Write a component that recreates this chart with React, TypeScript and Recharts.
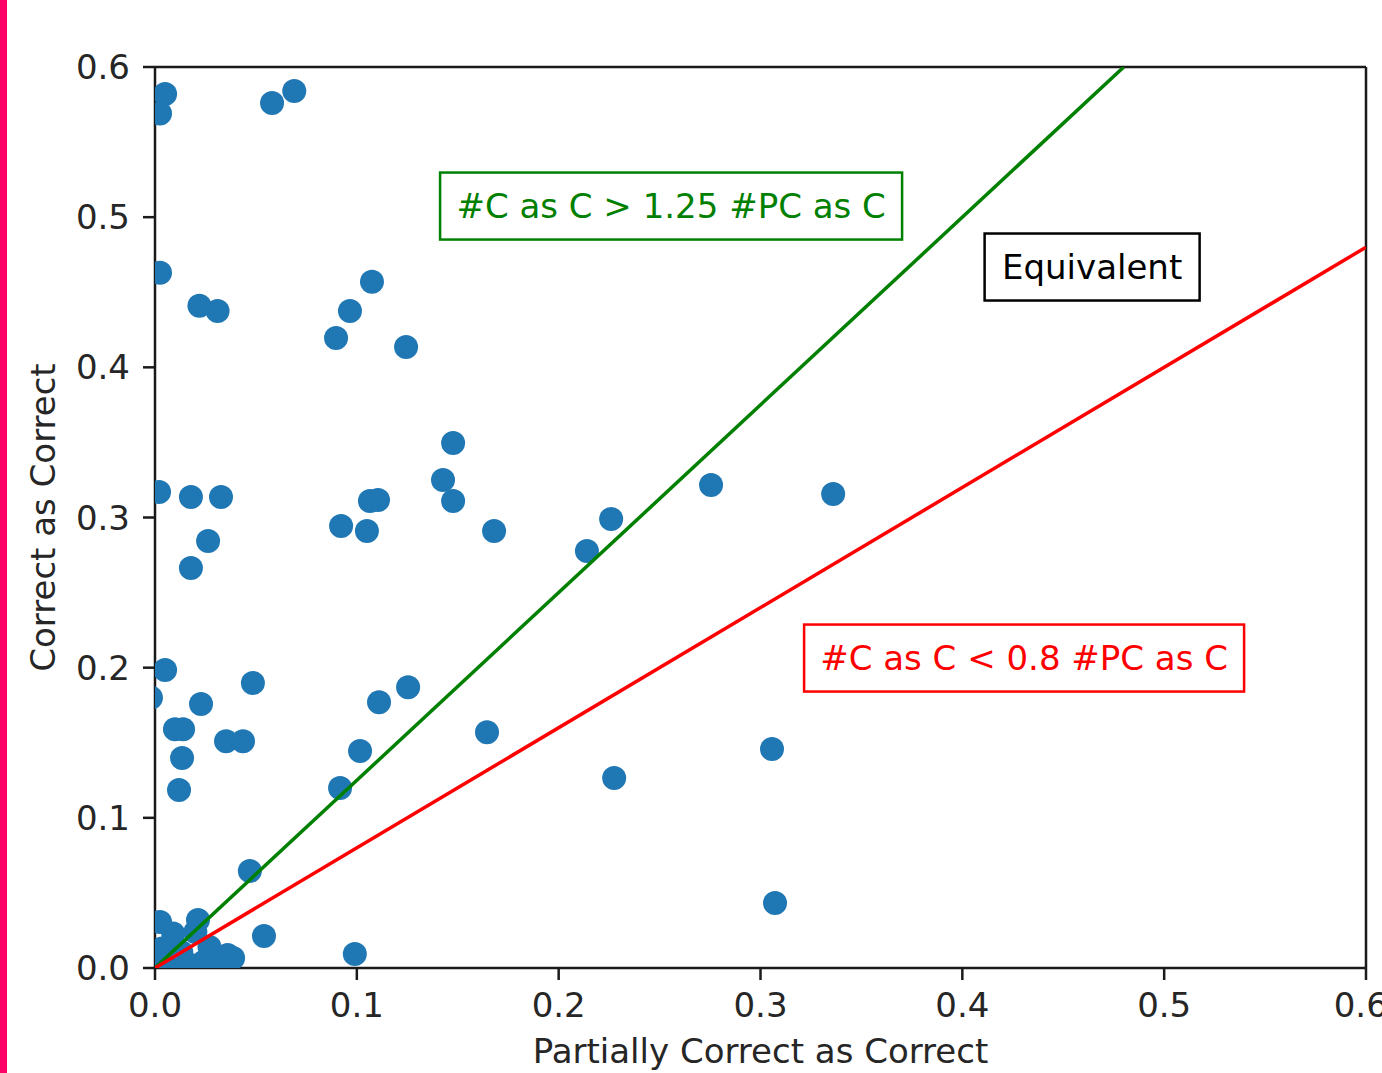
import React from 'react';
import { ScatterChart, Scatter, XAxis, YAxis, ReferenceLine, ReferenceDot } from 'recharts';

// Partially Correct as Correct (x) and Correct as Correct (y)
const pcAsC = [
  0.005, 0.0025, 0.058, 0.069, 0.0025, 0.022, 0.031, 0.1075, 0.0966, 0.0897,
  0.1244, 0.1477, 0.1427, 0.1477, 0.168, 0.1105, 0.1065, 0.0922, 0.105, 0.002,
  0.0178, 0.0327, 0.0263, 0.0178, 0.214, 0.226, 0.2755, 0.336, 0.005, -0.002,
  0.0228, 0.0485, 0.0099, 0.0139, 0.0134, 0.0119, 0.0352, 0.0436, 0.111, 0.1254,
  0.1016, 0.0917, 0.1645, 0.2275, 0.3057, 0.3072, 0.047, 0.054, 0.099, 0.0025,
  0.0213, 0.009, 0.027, 0.036, 0.0387, 0.0035, 0.013, 0.005, 0.015, 0.02,
  -0.006, -0.006, 0.024, 0.031,
];
const cAsC = [
  0.582, 0.569, 0.576, 0.584, 0.463, 0.441, 0.4375, 0.457, 0.4375, 0.4195,
  0.4135, 0.3496, 0.325, 0.311, 0.291, 0.3116, 0.311, 0.2943, 0.291, 0.317,
  0.3136, 0.3136, 0.2843, 0.2664, 0.2777, 0.299, 0.3216, 0.3156, 0.1984, 0.18,
  0.1758, 0.1898, 0.159, 0.159, 0.1398, 0.1185, 0.151, 0.151, 0.177, 0.187,
  0.1445, 0.1199, 0.157, 0.1265, 0.1458, 0.0433, 0.0646, 0.0213, 0.0093, 0.0306,
  0.032, 0.023, 0.014, 0.0087, 0.0067, 0.013, 0.0107, 0.002, 0.004, 0.024,
  0.156, 0.1165, 0.004, 0.003,
];
const ticks = [0, 0.1, 0.2, 0.3, 0.4, 0.5, 0.6];
const greenLine = [{ x: 0, y: 0 }, { x: 0.48, y: 0.6 }];
const redLine = [{ x: 0, y: 0 }, { x: 0.6, y: 0.48 }];
const annoText = ['#C as C > 1.25 #PC as C', 'Equivalent', '#C as C < 0.8 #PC as C'];
const annoX = [0.2557, 0.4643, 0.4306];
const annoY = [0.5074, 0.4668, 0.2064];
const annoColor = ['#008000', '#000000', '#ff0000'];
const annoW = [462, 215, 440];

const points = pcAsC.map((x, i) => ({ x, y: cAsC[i] }));

const FONT = 34;
const tickStyle = { fill: '#262626', fontSize: FONT };

export default function App() {
  return (
    <div
      style={{
        position: 'absolute',
        left: 0,
        top: 0,
        width: 1382,
        height: 1073,
        overflow: 'hidden',
        background: '#fff',
        fontFamily: '"DejaVu Sans", sans-serif',
      }}
    >
      <div style={{ position: 'absolute', left: 0, top: 0, width: 7, height: 1073, background: '#ff0066' }} />
      <ScatterChart width={1382} height={1073} margin={{ top: 67, right: 16, left: 0, bottom: 0 }}>
        <XAxis
          type="number"
          dataKey="x"
          domain={[0, 0.6]}
          ticks={ticks}
          allowDataOverflow
          tickFormatter={(v: number) => v.toFixed(1)}
          height={105}
          tickSize={12}
          tickMargin={13}
          stroke="#1a1a1a"
          strokeWidth={2.5}
          tick={tickStyle}
          label={(p: any) => {
            const vb = p.viewBox;
            return (
              <text x={vb.x + vb.width / 2} y={1063} textAnchor="middle" fill="#262626" fontSize={FONT}>
                Partially Correct as Correct
              </text>
            );
          }}
        />
        <YAxis
          type="number"
          dataKey="y"
          domain={[0, 0.6]}
          ticks={ticks}
          allowDataOverflow
          tickFormatter={(v: number) => v.toFixed(1)}
          width={155}
          tickSize={12}
          tickMargin={13}
          stroke="#1a1a1a"
          strokeWidth={2.5}
          tick={tickStyle}
          label={(p: any) => {
            const vb = p.viewBox;
            const cy = vb.y + vb.height / 2;
            return (
              <text
                x={55}
                y={cy}
                transform={`rotate(-90, 55, ${cy})`}
                textAnchor="middle"
                fill="#262626"
                fontSize={FONT}
              >
                Correct as Correct
              </text>
            );
          }}
        />
        <ReferenceLine y={0.6} stroke="#1a1a1a" strokeWidth={2.5} />
        <ReferenceLine x={0.6} stroke="#1a1a1a" strokeWidth={2.5} />
        <Scatter
          data={points}
          isAnimationActive={false}
          shape={(p: any) => <circle cx={p.cx} cy={p.cy} r={12} fill="#1f77b4" />}
        />
        <Scatter
          data={greenLine}
          isAnimationActive={false}
          line={{ stroke: '#008000', strokeWidth: 3.5 }}
          shape={() => <g />}
        />
        <Scatter
          data={redLine}
          isAnimationActive={false}
          line={{ stroke: '#ff0000', strokeWidth: 3.5 }}
          shape={() => <g />}
        />
        {annoText.map((t, i) => (
          <ReferenceDot
            key={t}
            x={annoX[i]}
            y={annoY[i]}
            r={1}
            shape={(p: any) => (
              <g>
                <rect
                  x={p.cx - annoW[i] / 2}
                  y={p.cy - 33.5}
                  width={annoW[i]}
                  height={67}
                  fill="#fff"
                  stroke={annoColor[i]}
                  strokeWidth={2.5}
                />
                <text x={p.cx} y={p.cy + 12} textAnchor="middle" fill={annoColor[i]} fontSize={FONT}>
                  {t}
                </text>
              </g>
            )}
          />
        ))}
      </ScatterChart>
    </div>
  );
}
